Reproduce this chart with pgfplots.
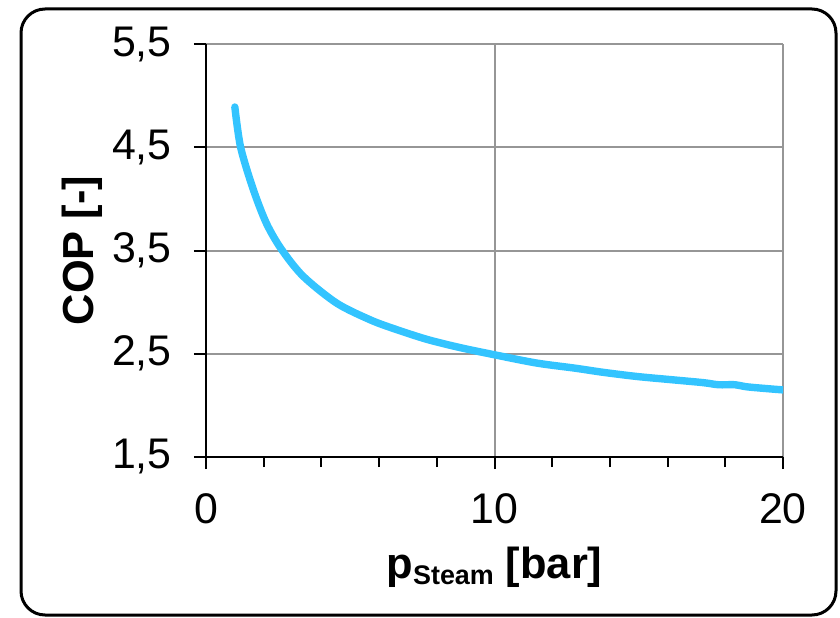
\documentclass[border=0pt]{standalone}
\usepackage{pgfplots}
\pgfplotsset{compat=1.18}
\usepackage{fontspec}
\setmainfont{Liberation Sans}
\definecolor{copblue}{RGB}{51,196,255}
\definecolor{gridgray}{RGB}{150,150,150}

\begin{document}
\begin{tikzpicture}[x=1bp,y=1bp]
\useasboundingbox (0,0) rectangle (420,309);
\draw[line width=1.5bp, rounded corners=12bp] (10.5,1.5) rectangle (418,304.5);
\begin{axis}[at={(103bp,80.5bp)}, anchor=south west,
  scale only axis, width=288.5bp, height=206.5bp,
  xmin=0, xmax=20, ymin=1.5, ymax=5.5,
  axis x line=bottom, axis y line=left,
  axis line style={line width=1.2bp, -},
  xtick={0,10,20}, minor xtick={2,4,6,8,12,14,16,18},
  ytick={1.5,2.5,3.5,4.5,5.5},
  tick align=outside, major tick length=6bp, minor tick length=5bp,
  tick style={black, line width=1bp},
  grid=major, major grid style={gridgray, line width=1bp},
  ticklabel style={font=\fontsize{21.5}{25}\selectfont, inner sep=0pt},
  /pgf/number format/assume math mode=true,
  yticklabel style={anchor=east, xshift=-11bp,
    /pgf/number format/.cd, fixed, fixed zerofill, precision=1, use comma},
  xticklabel style={anchor=north, yshift=-12bp},
  xlabel={\bfseries p\raisebox{-3bp}{\fontsize{13.5}{16}\selectfont Steam} [bar]},
  xlabel style={font=\fontsize{21.8}{26}\selectfont,
    at={(axis description cs:0.5,-0.2954)}, anchor=base},
  ylabel={\bfseries COP [-]},
  ylabel style={font=\fontsize{21.8}{26}\selectfont,
    at={(axis description cs:-0.1958,0.5)}, anchor=base},
]
\addplot[copblue, line width=3.7bp, smooth, line cap=round, line join=round]
  coordinates {
  (1.00,4.89)(1.20,4.50)(1.64,4.09)(2.10,3.76)(2.62,3.51)(3.37,3.25)
  (4.53,2.99)(5.68,2.83)(6.49,2.745)(7.65,2.64)(8.80,2.56)(10.00,2.49)
  (11.46,2.41)(12.80,2.36)(13.77,2.32)(14.93,2.28)(16.08,2.25)(17.24,2.22)
  (17.76,2.20)(18.34,2.20)(18.74,2.18)(19.54,2.16)(20.00,2.15)
  };
\end{axis}
\end{tikzpicture}
\end{document}
